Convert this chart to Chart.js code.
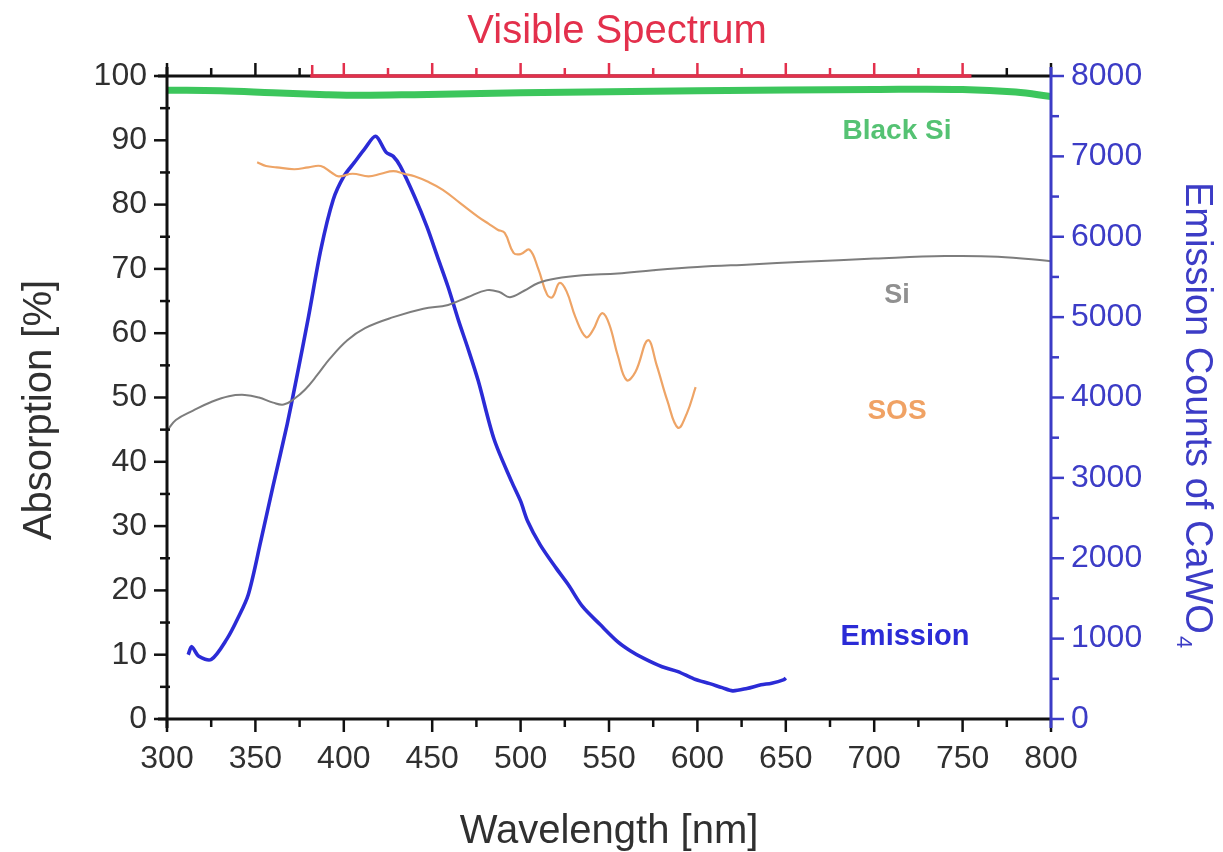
<!DOCTYPE html>
<html>
<head>
<meta charset="utf-8">
<title>Absorption and CaWO4 emission</title>
<script src="https://cdn.jsdelivr.net/npm/chart.js@4.4.1/dist/chart.umd.min.js"></script>
<style>
  html, body { margin: 0; padding: 0; background: #ffffff; }
  #wrap { width: 1223px; height: 852px; }
</style>
</head>
<body>
<div id="wrap"><canvas id="chart" width="1223" height="852"></canvas></div>
<script>
// Wavelength axis range and tick steps
const xRange = [300, 800];
const xMajorStep = 50;
const absRange = [0, 100];
const countRange = [0, 8000];
const visibleBand = [381, 755];

// Black Si absorption [%]
const blackSiWl  = [300, 330, 360, 390, 410, 440, 500, 600, 700, 750, 780, 800];
const blackSiAbs = [97.8, 97.7, 97.4, 97.1, 97.0, 97.1, 97.4, 97.7, 97.9, 97.9, 97.5, 96.8];

// Bulk Si absorption [%]
const siWl  = [300, 305, 315, 325, 335, 344, 352, 360, 366, 372, 378, 385, 392, 402, 412, 428, 445, 459, 470, 481, 488, 494, 502, 510, 520, 535, 555, 575, 600, 630, 660, 700, 740, 770, 800];
const siAbs = [44.8, 46.5, 48.0, 49.3, 50.2, 50.4, 50.0, 49.2, 48.9, 49.8, 51.2, 53.5, 56.0, 58.9, 60.8, 62.5, 63.8, 64.4, 65.6, 66.7, 66.4, 65.6, 66.6, 67.8, 68.5, 69.0, 69.3, 69.8, 70.3, 70.7, 71.1, 71.6, 72.0, 71.9, 71.2];

// Silicon-on-sapphire absorption [%]
const sosWl  = [351, 356, 362, 372, 380, 387, 393, 397, 405, 414, 421, 428, 434, 440, 448, 456, 466, 476, 482, 487, 491, 496, 500, 505, 510, 515, 518, 522, 526, 531, 537, 541, 546, 550, 555, 560, 565, 572, 577, 583, 589, 594, 599];
const sosAbs = [86.6, 86.0, 85.8, 85.5, 85.8, 86.0, 85.0, 84.4, 84.8, 84.4, 84.8, 85.2, 84.8, 84.4, 83.5, 82.3, 80.2, 78.1, 77.0, 76.1, 75.6, 72.5, 72.3, 73.0, 70.0, 66.0, 65.6, 67.8, 66.5, 62.5, 59.4, 60.5, 63.1, 61.5, 56.5, 52.7, 54.0, 58.9, 55.0, 49.5, 45.3, 47.5, 51.6];

// CaWO4 emission counts
const emWl     = [312, 314, 318, 325, 334, 340, 346, 353, 360, 368, 373, 380, 387, 394, 400, 406, 412, 418, 424, 428, 432, 440, 447, 453, 459, 465, 470, 476, 485, 495, 500, 504, 511, 520, 527, 535, 545, 555, 562, 570, 580, 589, 598, 607, 614, 620, 628, 636, 642, 649, 650];
const emCounts = [800, 900, 780, 740, 1000, 1250, 1550, 2210, 2900, 3670, 4210, 5000, 5840, 6460, 6750, 6925, 7100, 7250, 7050, 7000, 6875, 6500, 6125, 5750, 5375, 4950, 4625, 4210, 3480, 2950, 2710, 2460, 2170, 1880, 1670, 1400, 1175, 960, 850, 750, 650, 590, 500, 440, 390, 350, 380, 425, 445, 490, 510];

const toPoints = (xs, ys) => xs.map((v, i) => ({ x: v, y: ys[i] }));

const FONT = '"Liberation Sans", Arial, sans-serif';
const TEXT = '#303030';
const RED = '#e3304c';
const BLUE = '#2b2bd6';
const AXIS_BLUE = '#3c3cc6';

// Plot box edges on the canvas
const BOX = { left: 167, right: 1051, top: 76, bottom: 719, width: 1223, height: 852 };

// Axis lines, tick marks, axis titles and curve labels
const framePlugin = {
  id: 'frame',
  afterDatasetsDraw(chart) {
    const { ctx, chartArea: a, scales } = chart;
    const sx = scales.x, sy = scales.y, sy2 = scales.y2;
    ctx.save();
    ctx.lineCap = 'butt';

    // bottom axis
    ctx.strokeStyle = '#111';
    ctx.lineWidth = 3;
    ctx.beginPath(); ctx.moveTo(a.left - 9, a.bottom); ctx.lineTo(a.right, a.bottom); ctx.stroke();
    for (let v = xRange[0]; v <= xRange[1]; v += xMajorStep / 2) {
      const px = sx.getPixelForValue(v);
      const major = v % xMajorStep === 0;
      ctx.lineWidth = 2.5;
      ctx.beginPath(); ctx.moveTo(px, a.bottom); ctx.lineTo(px, a.bottom + (major ? 13 : 8)); ctx.stroke();
    }

    // top axis, visible band drawn in red
    const vs = sx.getPixelForValue(visibleBand[0]);
    const ve = sx.getPixelForValue(visibleBand[1]);
    ctx.lineWidth = 3;
    ctx.strokeStyle = '#111';
    ctx.beginPath(); ctx.moveTo(a.left - 9, a.top); ctx.lineTo(a.right, a.top); ctx.stroke();
    ctx.strokeStyle = RED;
    ctx.lineWidth = 3.5;
    ctx.beginPath(); ctx.moveTo(vs, a.top); ctx.lineTo(ve, a.top); ctx.stroke();
    for (let v = xRange[0]; v <= xRange[1]; v += xMajorStep / 2) {
      const px = sx.getPixelForValue(v);
      const major = v % xMajorStep === 0;
      ctx.strokeStyle = (v >= visibleBand[0] && v <= visibleBand[1]) ? RED : '#111';
      ctx.lineWidth = 2.5;
      ctx.beginPath(); ctx.moveTo(px, a.top); ctx.lineTo(px, a.top - (major ? 13 : 8)); ctx.stroke();
    }
    ctx.strokeStyle = RED;
    ctx.beginPath(); ctx.moveTo(vs + 2, a.top); ctx.lineTo(vs + 2, a.top - 11); ctx.stroke();

    // left axis
    ctx.strokeStyle = '#111';
    ctx.lineWidth = 3;
    ctx.beginPath(); ctx.moveTo(a.left, a.top - 9); ctx.lineTo(a.left, a.bottom + 9); ctx.stroke();
    for (let v = absRange[0]; v <= absRange[1]; v += 5) {
      const py = sy.getPixelForValue(v);
      const major = v % 10 === 0;
      ctx.lineWidth = 2.5;
      ctx.beginPath(); ctx.moveTo(a.left - (major ? 13 : 7), py); ctx.lineTo(a.left + (major ? 0 : 3), py); ctx.stroke();
    }

    // right axis
    ctx.strokeStyle = AXIS_BLUE;
    ctx.lineWidth = 3;
    ctx.beginPath(); ctx.moveTo(a.right, a.top - 9); ctx.lineTo(a.right, a.bottom + 9); ctx.stroke();
    for (let v = countRange[0]; v <= countRange[1]; v += 500) {
      const py = sy2.getPixelForValue(v);
      const major = v % 1000 === 0;
      ctx.lineWidth = 2.5;
      ctx.beginPath(); ctx.moveTo(a.right, py); ctx.lineTo(a.right + (major ? 13 : 8), py); ctx.stroke();
    }

    // axis titles
    ctx.textAlign = 'center';
    ctx.textBaseline = 'alphabetic';
    ctx.font = '40px ' + FONT;
    ctx.fillStyle = TEXT;
    ctx.fillText('Wavelength [nm]', (a.left + a.right) / 2, 843);
    ctx.fillStyle = RED;
    ctx.fillText('Visible Spectrum', 617, 43);

    ctx.save();
    ctx.translate(51, 410);
    ctx.rotate(-Math.PI / 2);
    ctx.fillStyle = TEXT;
    ctx.fillText('Absorption [%]', 0, 0);
    ctx.restore();

    ctx.save();
    ctx.translate(1186, 182);
    ctx.rotate(Math.PI / 2);
    ctx.fillStyle = AXIS_BLUE;
    ctx.textAlign = 'left';
    ctx.font = '38px ' + FONT;
    const main = 'Emission Counts of CaWO';
    ctx.fillText(main, 0, 0);
    const w = ctx.measureText(main).width;
    ctx.font = '22px ' + FONT;
    ctx.fillText('4', w + 2, 9);
    ctx.restore();

    // curve labels
    const label = (text, wl, abs, color, font) => {
      ctx.fillStyle = color;
      ctx.font = font;
      ctx.textAlign = 'center';
      ctx.textBaseline = 'middle';
      ctx.fillText(text, sx.getPixelForValue(wl), sy.getPixelForValue(abs));
    };
    label('Black Si', 712.9, 91.4, '#55c273', 'bold 28px ' + FONT);
    label('Si', 712.9, 65.8, '#909090', 'bold 27px ' + FONT);
    label('SOS', 712.9, 47.9, '#f0a264', 'bold 28px ' + FONT);
    label('Emission', 717.4, 12.75, BLUE, 'bold 29px ' + FONT);
    ctx.restore();
  }
};

const fix = (prop, val) => (scale) => { scale[prop] = val; };

new Chart(document.getElementById('chart'), {
  type: 'line',
  data: {
    datasets: [
      {
        label: 'Black Si',
        data: toPoints(blackSiWl, blackSiAbs),
        borderColor: '#3cc65c',
        borderWidth: 7,
        yAxisID: 'y',
        tension: 0.4
      },
      {
        label: 'Si',
        data: toPoints(siWl, siAbs),
        borderColor: '#7d7d7d',
        borderWidth: 2,
        yAxisID: 'y',
        tension: 0.4
      },
      {
        label: 'SOS',
        data: toPoints(sosWl, sosAbs),
        borderColor: '#eea466',
        borderWidth: 2.2,
        yAxisID: 'y',
        tension: 0.4
      },
      {
        label: 'Emission',
        data: toPoints(emWl, emCounts),
        borderColor: BLUE,
        borderWidth: 3.6,
        yAxisID: 'y2',
        tension: 0.3
      }
    ]
  },
  options: {
    responsive: false,
    animation: false,
    events: [],
    layout: { padding: 0 },
    elements: { point: { radius: 0 } },
    plugins: { legend: { display: false }, tooltip: { enabled: false } },
    scales: {
      x: {
        type: 'linear',
        position: 'bottom',
        min: xRange[0], max: xRange[1],
        afterFit: fix('height', BOX.height - BOX.bottom),
        grid: { display: false, drawTicks: false },
        border: { display: false },
        ticks: { stepSize: xMajorStep, padding: 21, autoSkip: false, color: TEXT, font: { family: FONT, size: 32 }, maxRotation: 0 }
      },
      xTop: {
        type: 'linear',
        position: 'top',
        min: xRange[0], max: xRange[1],
        afterFit: fix('height', BOX.top),
        grid: { display: false, drawTicks: false },
        border: { display: false },
        ticks: { display: false }
      },
      y: {
        type: 'linear',
        position: 'left',
        min: absRange[0], max: absRange[1],
        afterFit: fix('width', BOX.left),
        grid: { display: false, drawTicks: false },
        border: { display: false },
        ticks: { stepSize: 10, padding: 20, color: TEXT, font: { family: FONT, size: 32 } }
      },
      y2: {
        type: 'linear',
        position: 'right',
        min: countRange[0], max: countRange[1],
        afterFit: fix('width', BOX.width - BOX.right),
        grid: { display: false, drawTicks: false },
        border: { display: false },
        ticks: { stepSize: 1000, padding: 20, color: AXIS_BLUE, font: { family: FONT, size: 32 }, callback: (v) => String(v) }
      }
    }
  },
  plugins: [framePlugin]
});
</script>
</body>
</html>
